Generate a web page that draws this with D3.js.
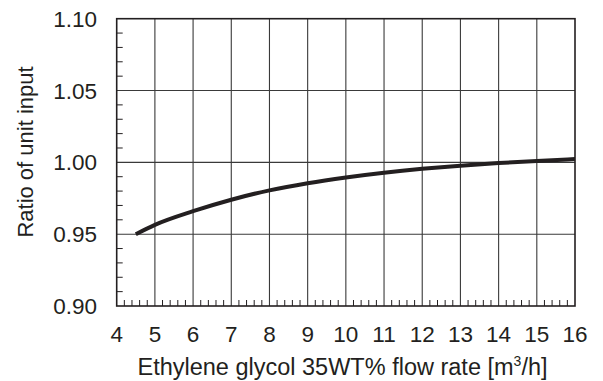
<!DOCTYPE html>
<html><head><meta charset="utf-8">
<script src="https://cdn.jsdelivr.net/npm/d3@7"></script>
<style>body{margin:0;background:#fff}svg{display:block}text{font-family:"Liberation Sans",Arial,sans-serif;fill:#231f20}</style>
</head><body><svg id="c" width="603" height="381"></svg>
<script>
const flowRate = [4.5, 5, 6, 7, 8, 9, 10, 11, 12, 13, 14, 15, 16];
const ratio = [0.950, 0.9565, 0.966, 0.974, 0.9805, 0.9855, 0.9895, 0.9928, 0.9955, 0.9977, 0.9995, 1.001, 1.0023];
const xTicks = [4,5,6,7,8,9,10,11,12,13,14,15,16];
const yTicks = [0.90,0.95,1.00,1.05,1.10];
const xTitle = "Ethylene glycol 35WT% flow rate [m";
const yTitle = "Ratio of unit input";

const L=116.7, R=575, T=18.7, B=306;
const svg = d3.select("#c");
const x = d3.scaleLinear().domain([4,16]).range([L,R]);
const y = d3.scaleLinear().domain([0.90,1.10]).range([B,T]);
const ink = "#231f20";

// grid
svg.append("g").selectAll("line").data(xTicks.slice(1,-1)).join("line")
  .attr("x1",d=>x(d)).attr("x2",d=>x(d)).attr("y1",T).attr("y2",B)
  .attr("stroke","#3a3a3a").attr("stroke-width",1.1);
svg.append("g").selectAll("line").data(yTicks.slice(1,-1)).join("line")
  .attr("y1",d=>y(d)).attr("y2",d=>y(d)).attr("x1",L).attr("x2",R)
  .attr("stroke","#3a3a3a").attr("stroke-width",1.1);

// minor ticks
const xMinor = d3.range(4,16.001,0.2).filter(v=>Math.abs(v-Math.round(v))>1e-6);
const yMinor = d3.range(0.90,1.1001,0.01).filter(v=>Math.abs(v*20-Math.round(v*20))>1e-6);
svg.append("g").selectAll("line").data(xMinor).join("line")
  .attr("x1",d=>x(d)).attr("x2",d=>x(d)).attr("y1",B).attr("y2",B-6)
  .attr("stroke",ink).attr("stroke-width",1);
svg.append("g").selectAll("line").data(yMinor).join("line")
  .attr("y1",d=>y(d)).attr("y2",d=>y(d)).attr("x1",L).attr("x2",L+6)
  .attr("stroke",ink).attr("stroke-width",1);

// frame
svg.append("rect").attr("x",L).attr("y",T).attr("width",R-L).attr("height",B-T)
  .attr("fill","none").attr("stroke",ink).attr("stroke-width",1.6);

// curve
svg.append("path").datum(flowRate.map((v,i)=>[v,ratio[i]]))
  .attr("d",d3.line().x(d=>x(d[0])).y(d=>y(d[1])).curve(d3.curveMonotoneX))
  .attr("fill","none").attr("stroke",ink).attr("stroke-width",4);

// labels
svg.append("g").selectAll("text").data(yTicks).join("text")
  .attr("x",97).attr("y",d=>y(d)).attr("dy","0.36em").attr("text-anchor","end")
  .attr("font-size",22.5).text(d=>d.toFixed(2));
svg.append("g").selectAll("text").data(xTicks).join("text")
  .attr("x",d=>x(d)).attr("y",342).attr("text-anchor","middle")
  .attr("font-size",22.5).text(d=>d);

const xt = svg.append("text").attr("x",342.5).attr("y",375).attr("text-anchor","middle").attr("font-size",23.5);
xt.append("tspan").text(xTitle);
xt.append("tspan").attr("font-size",14).attr("dy",-9).text("3");
xt.append("tspan").attr("dy",9).text("/h]");

svg.append("text").attr("transform",`translate(33,152) rotate(-90)`)
  .attr("text-anchor","middle").attr("font-size",22).text(yTitle);
</script></body></html>
